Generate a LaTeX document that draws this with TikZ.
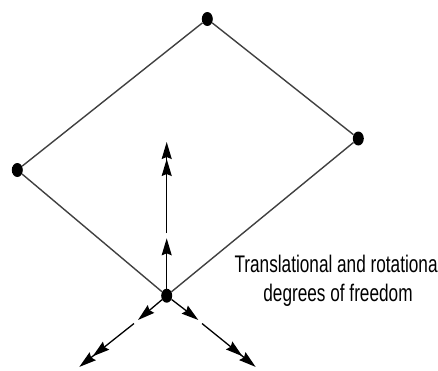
\documentclass[tikz,border=0pt]{standalone}
\usepackage{fontspec}
\setmainfont{Liberation Sans}
\usetikzlibrary{arrows.meta,shapes.geometric}
\begin{document}
\begin{tikzpicture}[x=1pt,y=-1pt,
  dot/.style={ellipse,fill=black,inner sep=0pt,minimum width=11pt,minimum height=14pt},
  edge/.style={draw=black!75,line width=1.4pt},
  head/.style={Stealth[length=17pt,width=10pt,inset=2pt]},
  single/.style={line width=1.3pt,-{Stealth[length=17pt,width=10pt,inset=2pt]}},
  double/.style={line width=1.3pt,-{Stealth[length=17pt,width=10pt,inset=2pt]Stealth[length=17pt,width=10pt,inset=2pt,sep=-3pt]}},
  lab/.style={font=\fontsize{24}{29}\selectfont,inner sep=0pt,anchor=base}]
\useasboundingbox (0,0) rectangle (438,370);
\clip (0,0) rectangle (438,370);
% vertices
\node[dot] (T) at (207.3,19) {};
\node[dot] (R) at (358.3,138.5) {};
\node[dot] (L) at (17.3,170) {};
\node[dot] (B) at (166.7,295.7) {};
\draw[edge] (L) -- (T);
\draw[edge] (T) -- (R);
\draw[edge] (R) -- (B);
\draw[edge] (L) -- (B);
% arrow points
\coordinate (v1) at (166.7,238.3);
\coordinate (v2) at (166.7,233);
\coordinate (v3) at (166.7,145);
\coordinate (l1) at (138,320);
\coordinate (l2) at (134,323.5);
\coordinate (l3) at (81.7,365);
\coordinate (r1) at (198.3,320);
\coordinate (r2) at (202,323.5);
\coordinate (r3) at (253.3,365);
\draw[single] (B) -- (v1);
\draw[double] (v2) -- (v3);
\draw[single] (B) -- (l1);
\draw[double] (l2) -- (l3);
\draw[single] (B) -- (r1);
\draw[double] (r2) -- (r3);
% label
\node[lab] (t1) at (338,272.3) {\scalebox{0.717}[1]{Translational and rotational}};
\node[lab] (t2) at (338,301.7) {\scalebox{0.717}[1]{degrees of freedom}};
\end{tikzpicture}
\end{document}
